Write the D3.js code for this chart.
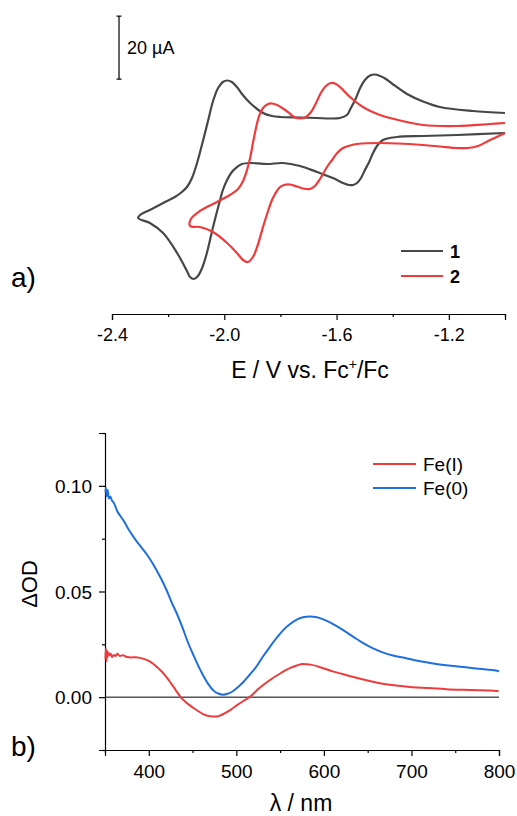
<!DOCTYPE html>
<html><head><meta charset="utf-8">
<script src="https://cdn.jsdelivr.net/npm/d3@7"></script>
<style>
html,body{margin:0;padding:0;background:#fff;}
svg{display:block;font-family:Arial,"Liberation Sans",sans-serif;}
</style></head>
<body>
<svg id="c" width="517" height="816"></svg>
<script>
// ---------- Panel a: cyclic voltammograms ----------
const cvTicks = [-2.4, -2.2, -2.0, -1.8, -1.6, -1.4, -1.2, -1.0];
const cvLabels = [-2.4, -2.0, -1.6, -1.2];
const cvNames = ["1", "2"];
// compound 1 (E in V vs Fc+/Fc, I in µA with arbitrary offset); cathodic sweep then anodic sweep
const cv1E = [-1.0,-1.171,-1.292,-1.385,-1.435,-1.456,-1.470,-1.484,-1.499,-1.513,-1.527,-1.541,-1.556,-1.577,-1.613,-1.670,-1.730,-1.791,-1.848,-1.908,-1.937,-1.955,-1.973,-1.990,-2.005,-2.015,-2.040,-2.062,-2.079,-2.094,-2.108,-2.122,-2.133,-2.168,-2.218,-2.265,-2.307,
  -2.300,-2.265,-2.218,-2.176,-2.151,-2.133,-2.115,-2.097,-2.076,-2.058,-2.040,-2.022,-2.005,-1.990,-1.973,-1.955,-1.937,-1.908,-1.862,-1.830,-1.802,-1.730,-1.670,-1.623,-1.588,-1.563,-1.549,-1.534,-1.516,-1.499,-1.481,-1.463,-1.445,-1.427,-1.403,-1.349,-1.292,-1.232,-1.114,-1.0];
const cv1I = [5.4,4.76,4.44,4.13,3.17,1.27,-0.95,-3.81,-6.35,-8.89,-10.48,-11.11,-11.11,-10.48,-8.89,-6.98,-5.08,-4.13,-4.44,-4.13,-4.44,-5.4,-6.98,-9.52,-12.7,-15.87,-24.44,-32.7,-37.46,-40.0,-40.95,-40.32,-38.41,-32.7,-26.35,-23.17,-21.59,
  -20.63,-19.05,-16.83,-14.92,-13.33,-11.75,-8.89,-4.13,2.86,9.21,15.56,19.68,21.59,22.06,21.59,20.0,17.78,14.92,11.75,10.79,10.48,10.32,10.16,10.0,10.16,11.11,13.33,15.87,19.68,22.22,23.65,23.97,23.49,22.7,21.11,17.78,15.4,13.65,12.38,11.75];
// compound 2
const cv2E = [-1.0,-1.053,-1.096,-1.132,-1.171,-1.232,-1.292,-1.445,-1.527,-1.552,-1.577,-1.598,-1.616,-1.634,-1.659,-1.677,-1.695,-1.720,-1.741,-1.766,-1.787,-1.805,-1.819,-1.830,-1.844,-1.862,-1.883,-1.898,-1.916,-1.933,-1.955,-1.990,-2.040,-2.087,-2.122,
  -2.119,-2.087,-2.026,-1.980,-1.951,-1.933,-1.919,-1.908,-1.898,-1.887,-1.876,-1.862,-1.844,-1.830,-1.812,-1.791,-1.769,-1.752,-1.730,-1.709,-1.691,-1.673,-1.656,-1.638,-1.620,-1.602,-1.584,-1.552,-1.506,-1.445,-1.410,-1.292,-1.171,-1.053,-1.0];
const cv2I = [5.4,3.17,1.27,0.63,0.63,1.11,1.59,2.22,1.9,1.43,0.63,-0.95,-3.17,-5.4,-9.2,-11.43,-12.38,-12.22,-11.59,-10.95,-11.11,-12.06,-13.97,-15.87,-19.37,-24.44,-30.79,-33.97,-35.56,-34.92,-32.7,-29.52,-26.03,-24.44,-24.13,
  -21.9,-19.37,-16.51,-14.29,-12.38,-9.84,-6.35,-2.54,2.22,6.98,10.79,13.33,14.6,14.76,14.29,13.17,11.75,10.48,10.0,10.48,12.06,14.92,18.1,20.32,21.27,20.95,19.68,16.83,13.65,11.11,10.16,7.94,7.62,8.25,8.57];
const scaleBarE = -2.375;
const scaleBarI = [22.5, 42.5];
const scaleBarLabel = "20 µA";

// ---------- Panel b: transient absorption spectra ----------
const specNames = ["Fe(I)", "Fe(0)"];
const specXTicks = [350,400,450,500,550,600,650,700,750,800];
const specXLabels = [400,500,600,700,800];
const specYTicks = [-0.025,0,0.025,0.05,0.075,0.1,0.125];
const specYLabels = [0,0.05,0.1];
const feI_lambda = [350.5,351,351.6,352.3,353,354,355,356.5,358,360,362,364,367,370.5,375,380,385,390,395,400,405,410,415,420,425,430,436,440,445,455,462,470,477,484,492,500,508,515,526,538,550,561,569,576,585,595,610,626,645,664,680,701,720,740,760,778,790,799.5];
const feI_dOD = [0.018,0.023,0.017,0.022,0.019,0.021,0.020,0.0205,0.019,0.020,0.0195,0.0205,0.0195,0.0198,0.019,0.0188,0.0189,0.0186,0.018,0.0172,0.0158,0.014,0.012,0.0096,0.0068,0.0038,0.0003,-0.0015,-0.0033,-0.0062,-0.0080,-0.0090,-0.0092,-0.0082,-0.0064,-0.0040,-0.0018,0.0,0.0042,0.0080,0.0112,0.0137,0.0150,0.0157,0.0154,0.0143,0.0122,0.0104,0.0084,0.0066,0.0056,0.0047,0.0043,0.0038,0.0035,0.0033,0.0031,0.0028];
const fe0_lambda = [350.5,351,352,353,354.5,356,358,360,364,368,372,376,381,386,392,398,404,410,416,421,426,432,438,444,450,456,462,468,474,480,485,490,496,502,508,515,523,530,538,546,553,561,569,576,584,592,600,608,616,626,635,644,655,667,680,694,707,721,735,751,762,774,786,798,800];
const fe0_dOD = [0.097,0.099,0.095,0.098,0.094,0.095,0.093,0.092,0.088,0.0855,0.083,0.080,0.0768,0.0738,0.0706,0.0674,0.0636,0.0592,0.0545,0.050,0.045,0.0396,0.0335,0.0267,0.0208,0.0153,0.0104,0.0062,0.0031,0.0016,0.0012,0.0016,0.0028,0.0048,0.0072,0.0105,0.0145,0.019,0.0236,0.028,0.0315,0.0345,0.0367,0.0378,0.0382,0.0378,0.0367,0.0352,0.0333,0.0307,0.0282,0.0258,0.0233,0.0212,0.0196,0.0184,0.0172,0.0162,0.0153,0.0146,0.0141,0.0136,0.0131,0.0125,0.0122];

const colors = {dark:"#474747", red:"#ef3b3b", blue:"#1f6fdf"};
const FONT = "Arial, 'Liberation Sans', sans-serif";

const svg = d3.select("#c");

// ===== Panel a =====
const xA = d3.scaleLinear().domain([-2.4, -1.0]).range([112, 505]);
const yA = d3.scaleLinear().domain([-50, 47.62]).range([307.5, 0]);
const axisAY = 314;
const isLab = (arr, d) => arr.some(v => Math.abs(v - d) < 1e-9);

const gAx = svg.append("g").attr("transform", `translate(0,${axisAY})`)
  .call(d3.axisBottom(xA).tickValues(cvTicks).tickSize(6).tickPadding(4)
    .tickFormat(d => isLab(cvLabels, d) ? d.toFixed(1) : ""));
gAx.selectAll(".tick line").attr("y2", d => isLab(cvLabels, d) ? 6 : 3);

const lineA = d3.line().x(d => xA(d[0])).y(d => yA(d[1])).curve(d3.curveCatmullRom.alpha(0.5));
const cvSeries = [
  {name: cvNames[0], E: cv1E, I: cv1I, color: colors.dark},
  {name: cvNames[1], E: cv2E, I: cv2I, color: colors.red}
];
cvSeries.forEach(s => {
  svg.append("path").datum(s.E.map((e, i) => [e, s.I[i]]))
    .attr("d", lineA).attr("fill", "none").attr("stroke", s.color).attr("stroke-width", 2.2)
    .attr("stroke-linejoin", "round");
});

// scale bar
const sbx = xA(scaleBarE);
svg.append("line").attr("x1", sbx).attr("x2", sbx).attr("y1", yA(scaleBarI[0])).attr("y2", yA(scaleBarI[1]))
  .attr("stroke", "#000").attr("stroke-width", 1.2);
scaleBarI.forEach(v => {
  svg.append("line").attr("x1", sbx - 2.5).attr("x2", sbx + 2.5).attr("y1", yA(v)).attr("y2", yA(v))
    .attr("stroke", "#000").attr("stroke-width", 1.2);
});
svg.append("text").attr("x", sbx + 8).attr("y", 54).attr("font-size", 18).text(scaleBarLabel);

// legend a
cvSeries.forEach((s, i) => {
  const y = 251 + i * 25;
  svg.append("line").attr("x1", 401).attr("x2", 443).attr("y1", y).attr("y2", y)
    .attr("stroke", s.color).attr("stroke-width", 2.2);
  svg.append("text").attr("x", 450).attr("y", y + 7).attr("font-size", 18).attr("font-weight", "bold").text(s.name);
});

// axis title a
const tA = svg.append("text").attr("x", 310).attr("y", 378).attr("text-anchor", "middle").attr("font-size", 23);
tA.append("tspan").text("E / V vs. Fc");
tA.append("tspan").attr("font-size", 14).attr("dy", -9).text("+");
tA.append("tspan").attr("dy", 9).text("/Fc");

svg.append("text").attr("x", 11).attr("y", 287).attr("font-size", 28).text("a)");

// ===== Panel b =====
const xB = d3.scaleLinear().domain([350, 800]).range([105, 499]);
const yB = d3.scaleLinear().domain([-0.025, 0.125]).range([750, 433]);

const gBx = svg.append("g").attr("transform", `translate(0,${yB(-0.025)})`)
  .call(d3.axisBottom(xB).tickValues(specXTicks).tickSize(6).tickPadding(4)
    .tickFormat(d => specXLabels.includes(d) ? String(d) : ""));
gBx.selectAll(".tick line").attr("y2", d => specXLabels.includes(d) ? 6 : 3);

const gBy = svg.append("g").attr("transform", `translate(${xB(350)},0)`)
  .call(d3.axisLeft(yB).tickValues(specYTicks).tickSize(6).tickPadding(7)
    .tickFormat(d => isLab(specYLabels, d) ? d.toFixed(2) : ""));
gBy.selectAll(".tick line").attr("x2", d => isLab(specYLabels, d) ? -6 : -3);

[gAx, gBx, gBy].forEach(g => {
  g.select(".domain").attr("stroke", "#000").attr("stroke-width", 1.2);
  g.selectAll(".tick line").attr("stroke", "#000").attr("stroke-width", 1.2);
  g.selectAll(".tick text").attr("fill", "#000").attr("font-family", FONT);
});
gAx.selectAll(".tick text").attr("font-size", 18).attr("dy", "0.95em");
gBx.selectAll(".tick text").attr("font-size", 19).attr("dy", "0.95em");
gBy.selectAll(".tick text").attr("font-size", 19).attr("dy", "0.35em");

// zero line
svg.append("line").attr("x1", xB(350)).attr("x2", xB(800)).attr("y1", yB(0)).attr("y2", yB(0))
  .attr("stroke", "#000").attr("stroke-width", 1);

const lineB = d3.line().x(d => xB(d[0])).y(d => yB(d[1])).curve(d3.curveMonotoneX);
const specSeries = [
  {name: specNames[0], L: feI_lambda, V: feI_dOD, color: colors.red},
  {name: specNames[1], L: fe0_lambda, V: fe0_dOD, color: colors.blue}
];
specSeries.forEach(s => {
  svg.append("path").datum(s.L.map((l, i) => [l, s.V[i]]))
    .attr("d", lineB).attr("fill", "none").attr("stroke", s.color).attr("stroke-width", 2)
    .attr("stroke-linejoin", "round");
});

specSeries.forEach((s, i) => {
  const y = 464 + i * 24;
  svg.append("line").attr("x1", 373).attr("x2", 416).attr("y1", y).attr("y2", y)
    .attr("stroke", s.color).attr("stroke-width", 2.2);
  svg.append("text").attr("x", 423).attr("y", y + 7).attr("font-size", 19).text(s.name);
});

svg.append("text").attr("transform", "translate(37,584) rotate(-90)").attr("text-anchor", "middle")
  .attr("font-size", 22).text("ΔOD");
svg.append("text").attr("x", 301).attr("y", 811).attr("text-anchor", "middle").attr("font-size", 23).text("λ / nm");
svg.append("text").attr("x", 11).attr("y", 756).attr("font-size", 28).text("b)");
</script>
</body></html>
